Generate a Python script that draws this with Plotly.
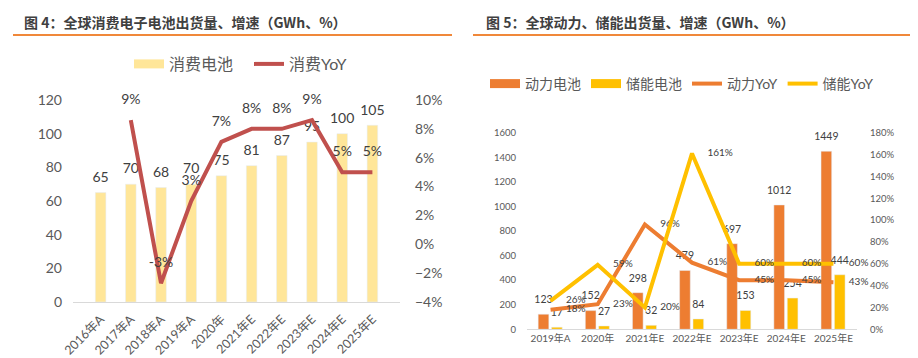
import plotly.graph_objects as go

# ---------------- data ----------------
# Figure 4: consumer electronics batteries
cons_years = ["2016年A", "2017年A", "2018年A", "2019年A", "2020年",
              "2021年E", "2022年E", "2023年E", "2024年E", "2025年E"]
cons_gwh = [65, 70, 68, 70, 75, 81, 87, 95, 100, 105]
cons_yoy = [None, 0.086, -0.027, 0.030, 0.071, 0.080, 0.080, 0.086, 0.050, 0.050]

# Figure 5: power & storage batteries
ev_years = ["2019年A", "2020年", "2021年E", "2022年E", "2023年E", "2024年E", "2025年E"]
power_gwh = [123, 152, 298, 479, 697, 1012, 1449]
storage_gwh = [17, 27, 32, 84, 153, 254, 444]
power_yoy = [0.18, 0.23, 0.96, 0.61, 0.45, 0.45, 0.43]
storage_yoy = [0.26, 0.59, 0.20, 1.61, 0.60, 0.60, 0.60]

title_left = "图 4：全球消费电子电池出货量、增速（GWh、%）"
title_right = "图 5：全球动力、储能出货量、增速（GWh、%）"

# ---------------- style ----------------
# the page body has an 8px margin, so the figure is drawn 8px in and sized to end at the window edge
OFF = 8
W, H = 910, 350
FONT = "Lato, 'Noto Sans CJK SC', sans-serif"
GRAY = "#595959"
DARK = "#404040"
C_CONS_BAR = "#FFE699"
C_CONS_LINE = "#C0504D"
C_POWER = "#ED7D31"
C_STORAGE = "#FFC000"
AXIS_LINE = "#D9D9D9"

def px_x(v):
    return (v - OFF) / W

def px_y(v):
    return 1 - (v - OFF) / H

idx = list(range(len(ev_years)))
BW = 0.226
P_OFF = -0.263
S_OFF = 0.021

fig = go.Figure()

# ---- left chart ----
fig.add_trace(go.Bar(x=cons_years, y=cons_gwh, marker_color=C_CONS_BAR, width=0.35,
                     xaxis="x", yaxis="y", showlegend=False, hoverinfo="skip"))
fig.add_trace(go.Scatter(x=cons_years, y=cons_gwh, mode="markers+text",
                         text=[str(v) for v in cons_gwh], textposition="top center",
                         marker=dict(size=10, opacity=0),
                         textfont=dict(size=14, color=DARK, family=FONT),
                         xaxis="x", yaxis="y", showlegend=False, cliponaxis=False,
                         hoverinfo="skip"))
fig.add_trace(go.Scatter(x=cons_years, y=cons_yoy, mode="lines+markers+text",
                         line=dict(color=C_CONS_LINE, width=4),
                         marker=dict(size=18, opacity=0),
                         texttemplate="%{y:.0%}", textposition="top center",
                         textfont=dict(size=14, color=DARK, family=FONT),
                         xaxis="x", yaxis="y2", showlegend=False, cliponaxis=False,
                         hoverinfo="skip"))
# legend entries (left)
fig.add_trace(go.Scatter(x=[None], y=[None], mode="lines", name="消费电池",
                         line=dict(color=C_CONS_BAR, width=9), xaxis="x", yaxis="y",
                         legend="legend"))
fig.add_trace(go.Scatter(x=[None], y=[None], mode="lines", name="消费YoY",
                         line=dict(color=C_CONS_LINE, width=4), xaxis="x", yaxis="y",
                         legend="legend"))

# ---- right chart ----
fig.add_trace(go.Bar(x=idx, y=power_gwh, width=BW, offset=P_OFF, marker_color=C_POWER,
                     xaxis="x2", yaxis="y3", showlegend=False, hoverinfo="skip"))
fig.add_trace(go.Bar(x=idx, y=storage_gwh, width=BW, offset=S_OFF, marker_color=C_STORAGE,
                     xaxis="x2", yaxis="y3", showlegend=False, hoverinfo="skip"))
fig.add_trace(go.Scatter(x=[i + P_OFF + BW / 2 for i in idx], y=power_gwh, mode="markers+text",
                         text=[str(v) for v in power_gwh], textposition="top center",
                         marker=dict(size=12, opacity=0),
                         textfont=dict(size=10.5, color=DARK, family=FONT),
                         xaxis="x2", yaxis="y3", showlegend=False, cliponaxis=False,
                         hoverinfo="skip"))
fig.add_trace(go.Scatter(x=[i + S_OFF + BW / 2 for i in idx], y=storage_gwh, mode="markers+text",
                         text=[str(v) for v in storage_gwh], textposition="top center",
                         marker=dict(size=12, opacity=0),
                         textfont=dict(size=10.5, color=DARK, family=FONT),
                         xaxis="x2", yaxis="y3", showlegend=False, cliponaxis=False,
                         hoverinfo="skip"))
fig.add_trace(go.Scatter(x=idx, y=power_yoy, mode="lines+markers+text",
                         line=dict(color=C_POWER, width=4),
                         marker=dict(size=23, opacity=0),
                         texttemplate="%{y:.0%}", textposition="middle right",
                         textfont=dict(size=10, color=DARK, family=FONT),
                         xaxis="x2", yaxis="y4", showlegend=False, cliponaxis=False,
                         hoverinfo="skip"))
fig.add_trace(go.Scatter(x=idx, y=storage_yoy, mode="lines+markers+text",
                         line=dict(color=C_STORAGE, width=4),
                         marker=dict(size=23, opacity=0),
                         texttemplate="%{y:.0%}", textposition="middle right",
                         textfont=dict(size=10, color=DARK, family=FONT),
                         xaxis="x2", yaxis="y4", showlegend=False, cliponaxis=False,
                         hoverinfo="skip"))
# legend entries (right)
for name, color, width in [("动力电池", C_POWER, 9), ("储能电池", C_STORAGE, 9),
                           ("动力YoY", C_POWER, 4), ("储能YoY", C_STORAGE, 4)]:
    fig.add_trace(go.Scatter(x=[None], y=[None], mode="lines", name=name,
                             line=dict(color=color, width=width), xaxis="x2", yaxis="y3",
                             legend="legend2"))

# ---------------- layout ----------------
tick_common = dict(showgrid=False, zeroline=False, ticks="", automargin=False)
fig.update_layout(
    width=W, height=H, margin=dict(l=0, r=0, t=0, b=0, pad=0, autoexpand=False),
    paper_bgcolor="white", plot_bgcolor="white",
    font=dict(family=FONT, color=GRAY),
    barmode="overlay",
    xaxis=dict(domain=[px_x(73), px_x(400)], anchor="y", type="category",
               tickangle=-45, showline=True, linecolor=AXIS_LINE, linewidth=1,
               tickfont=dict(size=12.5, color=GRAY), ticklabelstandoff=4, **tick_common),
    yaxis=dict(domain=[px_y(302), px_y(100)], anchor="x", range=[0, 120], dtick=20,
               tickfont=dict(size=14, color=GRAY), ticklabelstandoff=10, **tick_common),
    yaxis2=dict(overlaying="y", side="right", anchor="x", range=[-0.04, 0.10], dtick=0.02,
                tickformat=".0%", tickfont=dict(size=14, color=GRAY), ticklabelstandoff=14,
                **tick_common),
    xaxis2=dict(domain=[px_x(527), px_x(857)], anchor="y3", range=[-0.5, len(ev_years) - 0.5],
                tickvals=idx, ticktext=ev_years, showline=True, linecolor=AXIS_LINE, linewidth=1,
                tickfont=dict(size=10, color=GRAY), **tick_common),
    yaxis3=dict(domain=[px_y(329.3), px_y(132.7)], anchor="x2", range=[0, 1600], dtick=200,
                tickfont=dict(size=9.5, color=GRAY), ticklabelstandoff=10, **tick_common),
    yaxis4=dict(overlaying="y3", side="right", anchor="x2", range=[0, 1.8], dtick=0.2,
                tickformat=".0%", tickfont=dict(size=9.5, color=GRAY), ticklabelstandoff=12,
                **tick_common),
    legend=dict(orientation="h", x=px_x(129), y=px_y(64), xanchor="left", yanchor="middle",
                font=dict(size=16, color=GRAY), bgcolor="rgba(0,0,0,0)", itemwidth=30,
                entrywidth=75, entrywidthmode="pixels", tracegroupgap=0),
    legend2=dict(orientation="h", x=px_x(485), y=px_y(84), xanchor="left", yanchor="middle",
                 font=dict(size=14, color=GRAY), bgcolor="rgba(0,0,0,0)", itemwidth=30,
                 tracegroupgap=0),
    showlegend=True,
    annotations=[
        dict(text="<b>" + title_left + "</b>", x=px_x(22), y=px_y(22), xref="paper", yref="paper",
             xanchor="left", yanchor="middle", showarrow=False,
             font=dict(size=14, color=DARK, family="'Noto Sans CJK SC', sans-serif")),
        dict(text="<b>" + title_right + "</b>", x=px_x(484), y=px_y(22), xref="paper", yref="paper",
             xanchor="left", yanchor="middle", showarrow=False,
             font=dict(size=14, color=DARK, family="'Noto Sans CJK SC', sans-serif")),
    ],
    shapes=[
        dict(type="line", xref="paper", yref="paper", x0=px_x(13), x1=px_x(452),
             y0=px_y(35), y1=px_y(35), line=dict(color="#F0883A", width=2)),
        dict(type="line", xref="paper", yref="paper", x0=px_x(473), x1=px_x(913),
             y0=px_y(35), y1=px_y(35), line=dict(color="#F0883A", width=2)),
    ],
)

fig.write_html("out.html")
